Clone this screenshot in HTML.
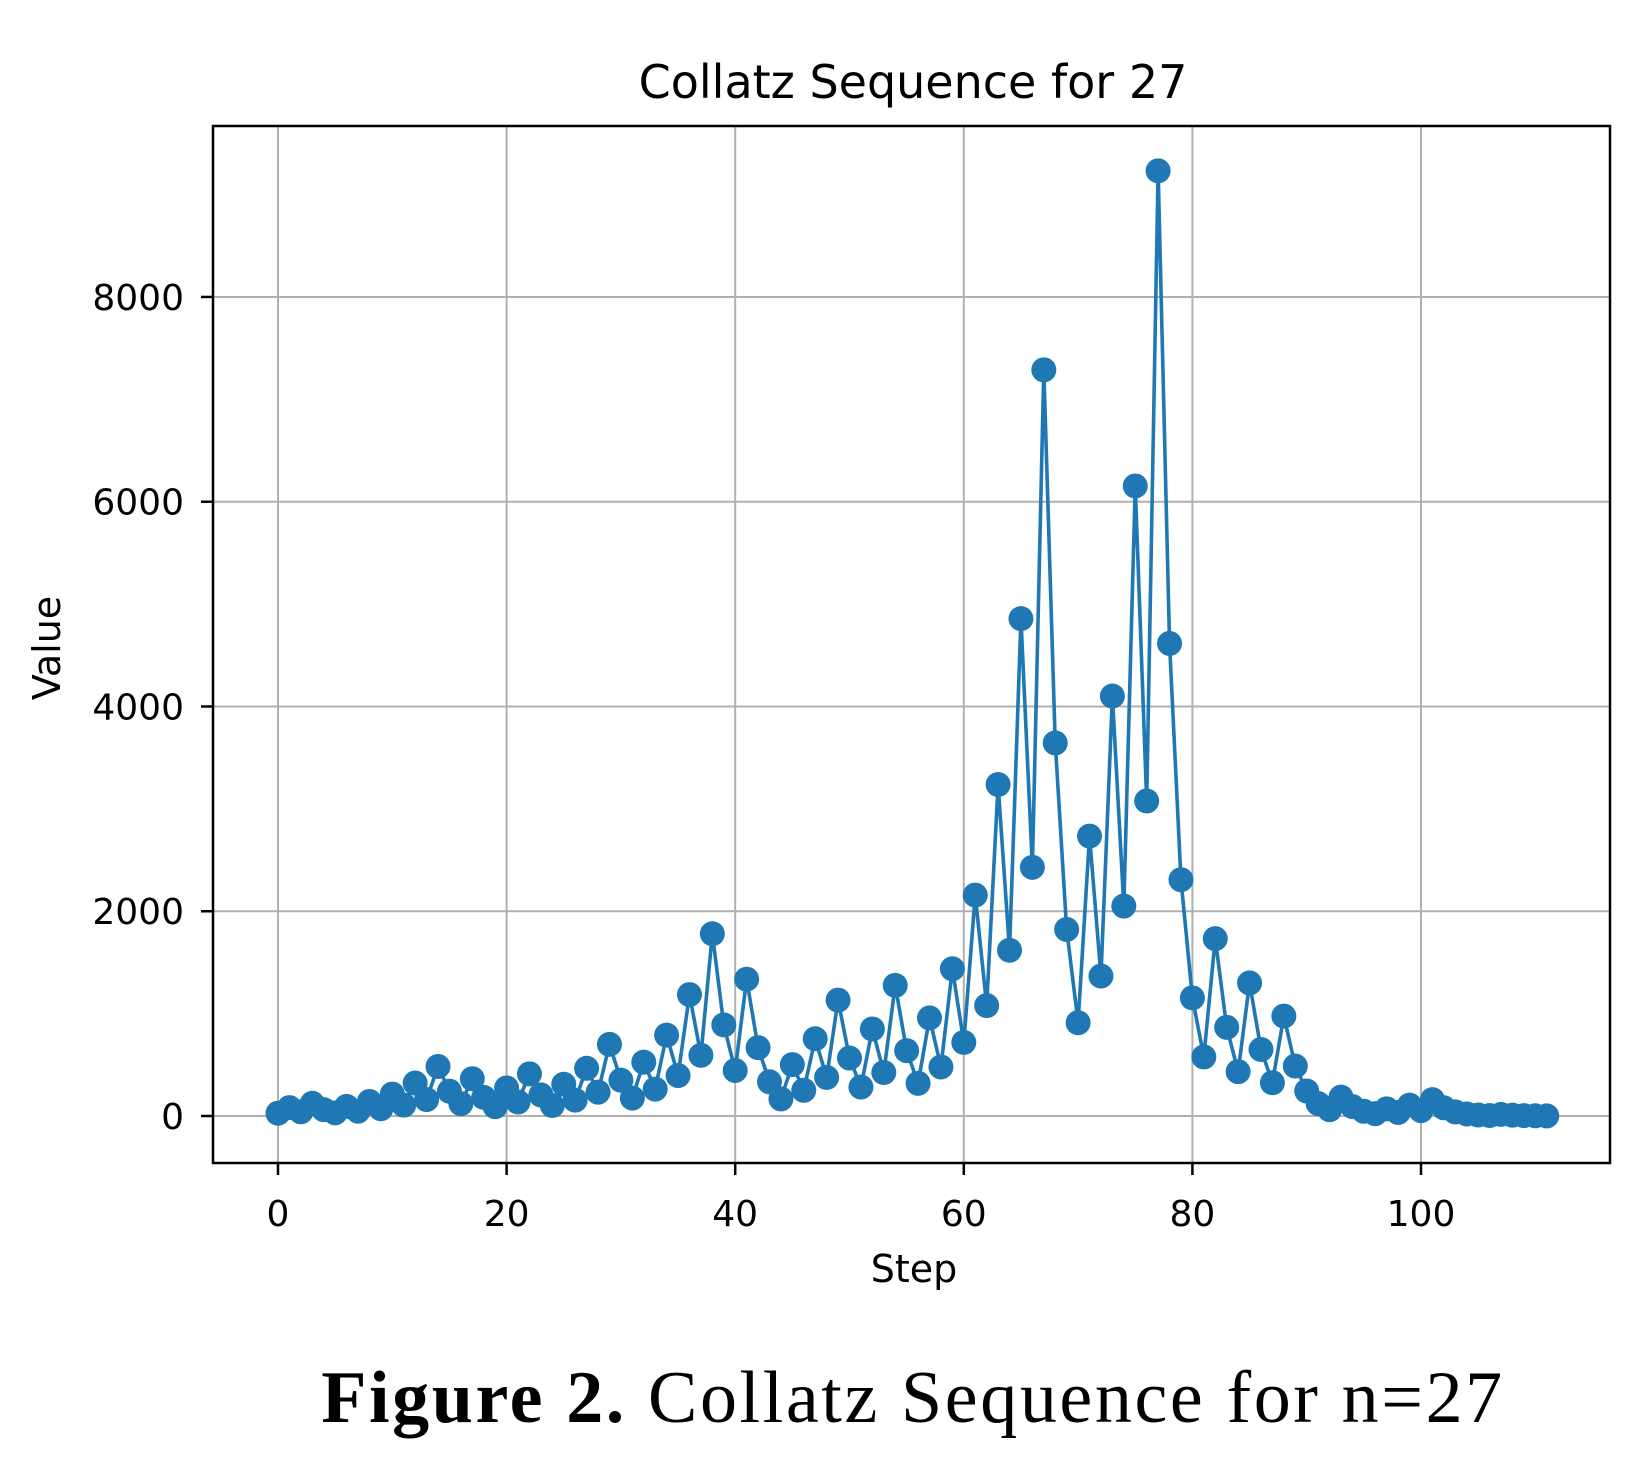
<!DOCTYPE html>
<html><head><meta charset="utf-8"><style>
html,body{margin:0;padding:0;background:#fff;}
svg text{font-family:"DejaVu Sans","Liberation Sans",sans-serif;fill:#000;}
</style></head><body>
<svg id="chart" width="1652" height="1476" xmlns="http://www.w3.org/2000/svg">
<rect width="1652" height="1476" fill="#fff"/>
<text x="913" y="98" font-size="46" text-anchor="middle">Collatz Sequence for 27</text>
<g id="grid"></g>
<g id="series"></g>
<rect x="213" y="126" width="1397" height="1037" fill="none" stroke="#000" stroke-width="2.5"/>
<g id="ticks"></g>
<text x="914" y="1282" font-size="38" text-anchor="middle">Step</text>
<text transform="translate(60,648) rotate(-90)" font-size="38" text-anchor="middle">Value</text>
<text x="913" y="1422" font-size="74" letter-spacing="2.6" text-anchor="middle" style="font-family:'Liberation Serif',serif"><tspan font-weight="bold">Figure 2.</tspan> Collatz Sequence for n=27</text>
</svg>
<script>
const values=[27,82,41,124,62,31,94,47,142,71,214,107,322,161,484,242,121,364,182,91,274,137,412,206,103,310,155,466,233,700,350,175,526,263,790,395,1186,593,1780,890,445,1336,668,334,167,502,251,754,377,1132,566,283,850,425,1276,638,319,958,479,1438,719,2158,1079,3238,1619,4858,2429,7288,3644,1822,911,2734,1367,4102,2051,6154,3077,9232,4616,2308,1154,577,1732,866,433,1300,650,325,976,488,244,122,61,184,92,46,23,70,35,106,53,160,80,40,20,10,5,16,8,4,2,1];
const xTicks=[0,20,40,60,80,100];
const yTicks=[0,2000,4000,6000,8000];
const NS="http://www.w3.org/2000/svg";
function xs(v){return 278+v*11.43;}
function ys(v){return 1116-v*0.10238;}
const grid=document.getElementById('grid'),ticks=document.getElementById('ticks'),ser=document.getElementById('series');
function mk(tag,attrs,parent){const e=document.createElementNS(NS,tag);for(const k in attrs)e.setAttribute(k,attrs[k]);parent.appendChild(e);return e;}
xTicks.forEach(t=>{
  const g=mk('line',{x1:xs(t),x2:xs(t),y1:126,y2:1163,stroke:'#b0b0b0','stroke-width':2},grid);
  
  
  mk('line',{x1:xs(t),x2:xs(t),y1:1163,y2:1175,stroke:'#000','stroke-width':2.5},ticks);
  const tx=mk('text',{x:xs(t),y:1226,'font-size':36,'text-anchor':'middle'},ticks);
  tx.textContent=t;
  
  
});
yTicks.forEach(t=>{
  const g=mk('line',{x1:213,x2:1610,y1:ys(t),y2:ys(t),stroke:'#b0b0b0','stroke-width':2},grid);
  
  
  mk('line',{x1:201,x2:213,y1:ys(t),y2:ys(t),stroke:'#000','stroke-width':2.5},ticks);
  const tx=mk('text',{x:184,y:ys(t)+13,'font-size':36,'text-anchor':'end'},ticks);
  tx.textContent=t;
  
  
});
const pl=mk('polyline',{points:values.map((v,i)=>xs(i)+','+ys(v)).join(' '),fill:'none',stroke:'#1f77b4','stroke-width':3.6},ser);


values.forEach((v,i)=>{
  const c=mk('circle',{cx:xs(i),cy:ys(v),r:12.5,fill:'#1f77b4'},ser);
  
  
});
</script>
</body></html>
